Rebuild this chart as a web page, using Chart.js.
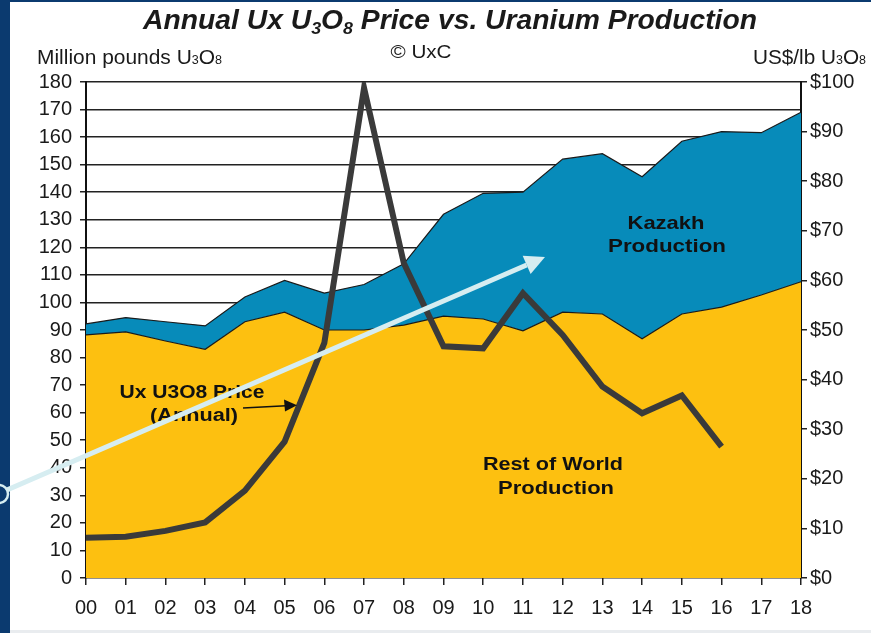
<!DOCTYPE html>
<html>
<head>
<meta charset="utf-8">
<script src="https://cdn.jsdelivr.net/npm/chart.js@4/dist/chart.umd.min.js"></script>
<style>
html,body{margin:0;padding:0;background:#fff;}
canvas{display:block;}
</style>
</head>
<body>
<canvas id="c" width="871" height="633"></canvas>
<script>
// ---- data ----
const years = ['00','01','02','03','04','05','06','07','08','09','10','11','12','13','14','15','16','17','18'];
// Rest of World production (million lb U3O8) - top of yellow area
const restOfWorld = [88.2, 89.3, 86, 83, 93, 96.5, 90, 90, 91.8, 95, 94, 89.7, 96.5, 95.8, 86.8, 95.8, 98.3, 102.7, 107.5];
// Total production incl. Kazakhstan (million lb U3O8) - top of blue area
const totalProduction = [92.2, 94.5, 93, 91.5, 102, 108, 103.4, 106.5, 114, 132, 139.6, 140, 152, 154, 145.6, 158.5, 162, 161.6, 169];
// Ux U3O8 annual price (US$/lb)
const uxPrice = [8.1, 8.3, 9.5, 11.2, 17.6, 27.5, 47.4, 98.8, 63.5, 46.7, 46.3, 57.4, 49, 38.6, 33.2, 36.8, 26.5, null, null];
const leftTicks = [0,10,20,30,40,50,60,70,80,90,100,110,120,130,140,150,160,170,180];
const rightTicks = [0,10,20,30,40,50,60,70,80,90,100];

const YELLOW = '#fdc010';
const BLUE = '#078bba';
const NAVY = '#0b3a6f';
const LINE = '#3a3a3a';
const TXT = '#1a1a1a';
const FONT = "'Liberation Sans', Arial, sans-serif";

function richText(ctx, segs, size, weight, x, y, targetW, align) {
  const subSize = Math.round(size * 0.62);
  let w = 0;
  segs.forEach(s => {
    ctx.font = weight + ' ' + (s.sub ? subSize : size) + 'px ' + FONT;
    s.w = ctx.measureText(s.t).width;
    w += s.w;
  });
  const k = targetW ? targetW / w : 1;
  const tw = w * k;
  let x0 = align === 'center' ? x - tw / 2 : (align === 'right' ? x - tw : x);
  ctx.save();
  ctx.translate(x0, y);
  ctx.scale(k, 1);
  ctx.textBaseline = 'alphabetic';
  ctx.textAlign = 'left';
  let cx = 0;
  segs.forEach(s => {
    ctx.font = weight + ' ' + (s.sub ? subSize : size) + 'px ' + FONT;
    ctx.fillText(s.t, cx, s.sub ? s.off : 0);
    cx += s.w;
  });
  ctx.restore();
}

const decor = {
  id: 'decor',
  beforeDraw(chart) {
    const ctx = chart.ctx;
    ctx.save();
    ctx.fillStyle = '#ffffff';
    ctx.fillRect(0, 0, chart.width, chart.height);
    ctx.fillStyle = NAVY;
    ctx.fillRect(0, 0, 10, chart.height);
    ctx.fillRect(0, 0, chart.width, 2);
    ctx.fillStyle = '#e9ecef';
    ctx.fillRect(10, 630, chart.width - 10, 3);
    ctx.fillStyle = TXT;
    richText(ctx, [{t:'Annual Ux U'},{t:'3',sub:true,off:5},{t:'O'},{t:'8',sub:true,off:5},{t:' Price vs. Uranium Production'}],
      27, 'bold italic', 450, 29, 614, 'center');
    richText(ctx, [{t:'Million pounds U'},{t:'3',sub:true,off:0},{t:'O'},{t:'8',sub:true,off:0}],
      20, 'normal', 37, 64, 185, 'left');
    richText(ctx, [{t:'© UxC'}], 18, 'normal', 421, 58, 61, 'center');
    richText(ctx, [{t:'US$/lb U'},{t:'3',sub:true,off:0},{t:'O'},{t:'8',sub:true,off:0}],
      20, 'normal', 866, 64, 113, 'right');
    ctx.restore();
  },
  afterDatasetsDraw(chart) {
    const ctx = chart.ctx;
    ctx.save();
    ctx.fillStyle = '#111';
    richText(ctx, [{t:'Ux U3O8 Price'}], 18, 'bold', 192, 398, 145, 'center');
    richText(ctx, [{t:'(Annual)'}], 18, 'bold', 194, 421, 88, 'center');
    richText(ctx, [{t:'Kazakh'}], 19, 'bold', 666, 229, 77, 'center');
    richText(ctx, [{t:'Production'}], 19, 'bold', 667, 252, 118, 'center');
    richText(ctx, [{t:'Rest of World'}], 19, 'bold', 553, 470, 140, 'center');
    richText(ctx, [{t:'Production'}], 19, 'bold', 556, 494, 116, 'center');
    ctx.strokeStyle = '#111';
    ctx.lineWidth = 1.6;
    ctx.beginPath();
    ctx.moveTo(243, 408);
    ctx.lineTo(286, 405.8);
    ctx.stroke();
    ctx.fillStyle = '#111';
    ctx.beginPath();
    ctx.moveTo(297, 405.2);
    ctx.lineTo(284, 399.5);
    ctx.lineTo(285, 411.5);
    ctx.closePath();
    ctx.fill();
    ctx.restore();
  },
  afterDraw(chart) {
    const ctx = chart.ctx;
    ctx.save();
    const x0 = 0, y0 = 493, x1 = 545, y1 = 257;
    const ang = Math.atan2(y1 - y0, x1 - x0);
    const hl = 20, hw = 10;
    const bx = x1 - hl * Math.cos(ang), by = y1 - hl * Math.sin(ang);
    ctx.strokeStyle = '#d6edf1';
    ctx.lineWidth = 5;
    ctx.beginPath();
    ctx.moveTo(x0, y0);
    ctx.lineTo(bx, by);
    ctx.stroke();
    ctx.fillStyle = '#d6edf1';
    ctx.beginPath();
    ctx.moveTo(x1, y1);
    ctx.lineTo(bx + hw * Math.sin(ang), by - hw * Math.cos(ang));
    ctx.lineTo(bx - hw * Math.sin(ang), by + hw * Math.cos(ang));
    ctx.closePath();
    ctx.fill();
    ctx.beginPath();
    ctx.arc(-1, 494, 9, 0, Math.PI * 2);
    ctx.fillStyle = NAVY;
    ctx.fill();
    ctx.lineWidth = 2.5;
    ctx.strokeStyle = '#d6edf1';
    ctx.stroke();
    ctx.restore();
  }
};

new Chart(document.getElementById('c'), {
  type: 'line',
  data: {
    labels: years,
    datasets: [
      { label: 'Ux U3O8 Price (Annual)', data: uxPrice, yAxisID: 'y1', borderColor: LINE, borderWidth: 6,
        pointRadius: 0, fill: false, tension: 0, spanGaps: false },
      { label: 'Rest of World Production', data: restOfWorld, yAxisID: 'y', borderColor: '#1a1a1a', borderWidth: 1.2,
        backgroundColor: YELLOW, pointRadius: 0, fill: 'origin', tension: 0 },
      { label: 'Kazakh Production', data: totalProduction, yAxisID: 'y', borderColor: '#1a1a1a', borderWidth: 1.2,
        backgroundColor: BLUE, pointRadius: 0, fill: '-1', tension: 0 }
    ]
  },
  options: {
    responsive: false,
    devicePixelRatio: 1,
    animation: false,
    layout: { padding: { top: 82, left: 0, right: 0, bottom: 0 } },
    plugins: { legend: { display: false }, tooltip: { enabled: false }, title: { display: false } },
    scales: {
      x: {
        type: 'category', offset: false,
        grid: { display: true, drawOnChartArea: false, drawTicks: true, tickLength: 7, color: '#222', lineWidth: 1.5 },
        border: { display: false },
        ticks: { color: TXT, font: { family: FONT, size: 20 }, padding: 11, maxRotation: 0, autoSkip: false },
        afterFit(s) { s.height = 55; }
      },
      y: {
        position: 'left', min: 0, max: 180,
        afterBuildTicks(s) { s.ticks = leftTicks.map(v => ({ value: v })); },
        grid: { color: '#222', lineWidth: 1.5, tickLength: 6, drawTicks: true },
        border: { display: true, color: '#111', width: 2 },
        ticks: { color: TXT, font: { family: FONT, size: 20 }, padding: 8 },
        afterFit(s) { s.width = 86; }
      },
      y1: {
        position: 'right', min: 0, max: 100,
        afterBuildTicks(s) { s.ticks = rightTicks.map(v => ({ value: v })); },
        grid: { drawOnChartArea: false, color: '#222', lineWidth: 1.5, tickLength: 6, drawTicks: true },
        border: { display: true, color: '#111', width: 2 },
        ticks: { color: TXT, font: { family: FONT, size: 20 }, padding: 3, callback: v => '$' + v },
        afterFit(s) { s.width = 70; }
      }
    }
  },
  plugins: [decor]
});
</script>
</body>
</html>
